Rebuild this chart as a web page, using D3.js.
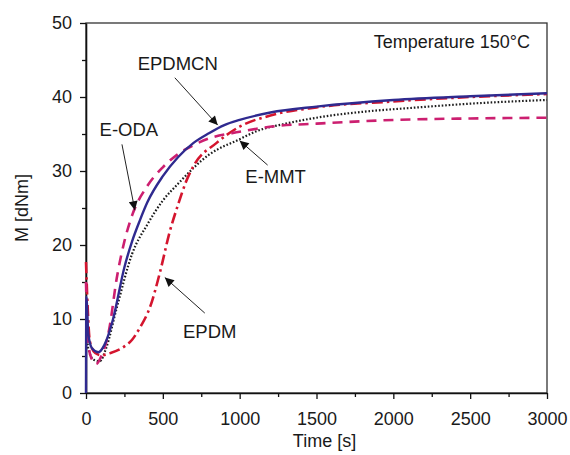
<!DOCTYPE html>
<html>
<head>
<meta charset="utf-8">
<script src="https://cdn.jsdelivr.net/npm/d3@7"></script>
<style>
  body { margin: 0; background: #fff; }
  text { font-family: "Liberation Sans", Arial, sans-serif; fill: #1a1a1a; }
</style>
</head>
<body>
<div id="chart"></div>
<script>
// curve data: [time s, torque dNm]
const epdmcn = [[0,0],[2,13],[15,8],[40,6],[80,5.5],[120,6.5],[175,9.9],[250,17],[300,20.5],[350,23.3],[400,25.8],[500,29.3],[600,31.9],[700,33.8],[800,35.1],[900,36.2],[1000,36.9],[1200,37.9],[1500,38.7],[2000,39.6],[2500,40.1],[3000,40.5]];
const eoda = [[0,15],[10,8],[30,5],[65,3.9],[100,5],[150,8.5],[200,15.5],[250,20.5],[300,24],[400,28],[500,30.5],[600,32.3],[700,33.5],[800,34.4],[1000,35.3],[1250,36.1],[1500,36.4],[2000,36.9],[2500,37.1],[3000,37.2]];
const emmt = [[0,10],[15,6],[50,4.5],[90,4.3],[130,6],[200,11.5],[300,18.8],[400,22.8],[500,26],[600,28.3],[800,32.2],[1000,34.3],[1100,35.3],[1300,36.4],[1500,37.2],[1800,38],[2100,38.5],[2500,39.1],[3000,39.6]];
const epdm = [[0,17.7],[10,12],[25,7],[60,5.4],[100,5.1],[160,5.4],[250,6.3],[300,7.2],[350,8.8],[420,11.8],[480,16.2],[545,21.8],[600,25.5],[650,28.5],[700,30.7],[850,33.8],[1000,36],[1200,37.5],[1500,38.6],[2000,39.4],[2500,40],[3000,40.4]];

const xTicks = [0, 500, 1000, 1500, 2000, 2500, 3000];
const yTicks = [0, 10, 20, 30, 40, 50];

// label text, label position [t, M], arrow start and arrow tip [t, M]
const labels = [
  {name: "EPDMCN", at: [597, 43.6], from: [578, 42.6], tip: [857, 36.2]},
  {name: "E-ODA", at: [279, 34.7], from: [234, 33.6], tip: [318, 24.7]},
  {name: "E-MMT", at: [1234, 28.4], from: [1182, 30.8], tip: [1000, 34.1]},
  {name: "EPDM", at: [805, 7.4], from: [773, 10.8], tip: [513, 15.6]}
];

const margin = {top: 23, right: 23, bottom: 62, left: 86},
      width = 570 - margin.left - margin.right,
      height = 455 - margin.top - margin.bottom;

const svg = d3.select("#chart").append("svg")
    .attr("width", 570).attr("height", 455)
    .append("g")
    .attr("transform", `translate(${margin.left},${margin.top})`);

const x = d3.scaleLinear().domain([0, 3000]).range([0, width]);
const y = d3.scaleLinear().domain([0, 50]).range([height, 0]);

svg.append("defs").append("marker")
    .attr("id", "arrow")
    .attr("viewBox", "0 0 10 10")
    .attr("refX", 10).attr("refY", 5)
    .attr("markerWidth", 12).attr("markerHeight", 9)
    .attr("markerUnits", "userSpaceOnUse")
    .attr("orient", "auto")
    .append("path").attr("d", "M0,0L10,5L0,10z").attr("fill", "#111");

// frame top/right
svg.append("rect")
    .attr("width", width).attr("height", height)
    .attr("fill", "none").attr("stroke", "#333").attr("stroke-width", 1.3);

// axes with minor ticks
svg.append("g").attr("transform", `translate(0,${height})`)
    .call(d3.axisBottom(x).tickValues(xTicks).tickSize(6).tickSizeOuter(0)
          .tickPadding(13).tickFormat(d3.format("d")));
svg.append("g").attr("transform", `translate(0,${height})`)
    .call(d3.axisBottom(x).tickValues(d3.range(250, 3000, 500)).tickSize(4).tickFormat(""))
    .select(".domain").remove();
svg.append("g")
    .call(d3.axisLeft(y).tickValues(yTicks).tickSize(6).tickSizeOuter(0).tickPadding(8));
svg.append("g")
    .call(d3.axisLeft(y).tickValues(d3.range(5, 50, 10)).tickSize(4).tickFormat(""))
    .select(".domain").remove();

svg.selectAll(".domain").attr("stroke", "#111").attr("stroke-width", 1.6);
svg.selectAll(".tick line").attr("stroke", "#111").attr("stroke-width", 1.3);
svg.selectAll(".tick text")
    .style("font-family", "Liberation Sans, Arial, sans-serif")
    .style("font-size", "18px").attr("fill", "#1a1a1a");

const line = d3.line()
    .x(d => x(d[0]))
    .y(d => y(d[1]))
    .curve(d3.curveMonotoneX);

const series = [
  {data: emmt, color: "#1c1c1c", width: 2.2, dash: "1.6,1.9"},
  {data: epdm, color: "#d4152e", width: 2.6, dash: "11,4,2.5,4"},
  {data: eoda, color: "#cc1f70", width: 2.6, dash: "10,7"},
  {data: epdmcn, color: "#2f2a8f", width: 2.4, dash: null}
];

series.forEach(s => {
  svg.append("path")
     .datum(s.data)
     .attr("d", line)
     .attr("fill", "none")
     .attr("stroke", s.color)
     .attr("stroke-width", s.width)
     .attr("stroke-dasharray", s.dash);
});

// annotations with arrows
labels.forEach(l => {
  svg.append("text")
     .attr("x", x(l.at[0])).attr("y", y(l.at[1]))
     .attr("text-anchor", "middle")
     .style("font-size", "18.5px")
     .text(l.name);
  svg.append("line")
     .attr("x1", x(l.from[0])).attr("y1", y(l.from[1]))
     .attr("x2", x(l.tip[0])).attr("y2", y(l.tip[1]))
     .attr("stroke", "#222").attr("stroke-width", 1)
     .attr("marker-end", "url(#arrow)");
});

svg.append("text")
   .attr("x", width - 17).attr("y", 25)
   .attr("text-anchor", "end")
   .style("font-size", "18px")
   .text("Temperature 150°C");

svg.append("text")
   .attr("x", width / 2 + 8).attr("y", height + 54)
   .attr("text-anchor", "middle")
   .style("font-size", "18px")
   .text("Time [s]");

svg.append("text")
   .attr("transform", "rotate(-90)")
   .attr("x", -185).attr("y", -58)
   .attr("text-anchor", "middle")
   .style("font-size", "18px")
   .text("M [dNm]");
</script>
</body>
</html>
